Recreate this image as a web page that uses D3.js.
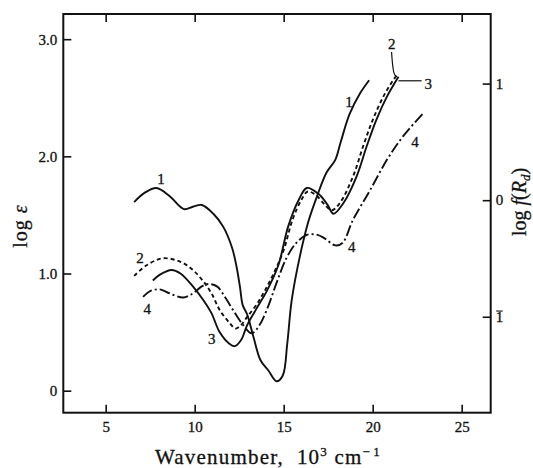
<!DOCTYPE html>
<html>
<head>
<meta charset="utf-8">
<script src="https://cdn.jsdelivr.net/npm/d3@7"></script>
<style>
  body { margin: 0; background: #fff; }
  svg text { font-family: "Liberation Serif", "DejaVu Serif", serif; fill: #111; stroke: #111; stroke-width: 0.3; }
</style>
</head>
<body>
<div id="chart"></div>
<script>
// wavenumber (10^3 cm-1), log eps
var curve1 = [[6.6,1.61],[7.2,1.69],[7.85,1.73],[8.6,1.66],[9.4,1.55],[9.9,1.57],[10.4,1.585],[11.05,1.51],[11.6,1.40],[12.1,1.22],[12.35,1.06],[12.55,0.88],[12.7,0.73],[12.95,0.65],[13.3,0.46],[13.7,0.26],[14.15,0.17],[14.6,0.08],[14.95,0.13],[15.2,0.40],[15.45,0.77],[15.9,1.14],[16.4,1.45],[16.9,1.67],[17.4,1.86],[17.9,1.97],[18.2,2.12],[18.7,2.36],[19.3,2.54],[19.8,2.65]];
var curve2 = [[6.6,0.98],[7.3,1.07],[8.2,1.13],[9.2,1.10],[9.9,1.03],[10.5,0.93],[10.95,0.83],[11.4,0.69],[11.95,0.58],[12.3,0.53],[12.6,0.56],[12.95,0.63],[13.5,0.74],[14.0,0.87],[14.5,1.02],[15.0,1.2],[15.5,1.46],[16.0,1.63],[16.35,1.70],[16.8,1.67],[17.3,1.59],[17.7,1.54],[18.15,1.60],[18.9,1.83],[19.45,2.08],[20.0,2.31],[20.6,2.51],[21.15,2.65],[21.35,2.69]];
var curve3 = [[7.65,0.94],[8.05,0.99],[8.7,1.03],[9.2,1.0],[9.9,0.89],[10.5,0.77],[10.95,0.66],[11.4,0.50],[11.95,0.40],[12.25,0.38],[12.6,0.43],[12.95,0.56],[13.55,0.72],[14.05,0.85],[14.7,1.07],[15.25,1.40],[15.85,1.63],[16.3,1.73],[16.95,1.68],[17.45,1.59],[17.8,1.51],[18.35,1.60],[19.1,1.83],[19.65,2.08],[20.2,2.31],[20.8,2.51],[21.45,2.68]];
var curve4 = [[7.1,0.80],[7.5,0.85],[8.05,0.865],[8.6,0.83],[9.35,0.795],[9.9,0.83],[10.4,0.89],[10.75,0.91],[11.25,0.89],[11.7,0.80],[12.15,0.69],[12.65,0.575],[13.2,0.49],[13.6,0.55],[14.05,0.69],[14.6,0.92],[15.15,1.13],[15.7,1.26],[16.3,1.33],[16.9,1.33],[17.3,1.30],[17.9,1.24],[18.3,1.26],[18.9,1.46],[19.85,1.71],[20.8,1.97],[21.7,2.17],[22.85,2.37]];

var xTicks = [5, 10, 15, 20, 25];
var yTicks = [0, 1, 2, 3];
var yTickLabels = ["0", "1.0", "2.0", "3.0"];
var y2Ticks = [-1, 0, 1];
var y2TickLabels = ["1", "0", "1"]; // -1 is written as 1 with a bar over it

// curve number labels [wavenumber, log eps, text]
var labels = [[8.11,1.807,"1"],[18.67,2.463,"1"],[6.93,1.138,"2"],[21.07,2.964,"2"],[10.96,0.447,"3"],[23.12,2.623,"3"],[7.34,0.703,"4"],[18.82,1.229,"4"],[22.38,2.125,"4"]];
var leader2 = [[21.06,2.89],[21.13,2.77],[21.2,2.71],[21.31,2.68]];
var leader3 = [[21.45,2.645],[22.75,2.645]];

(function(){
var w = 533, h = 468;
var pl = 63.3, pr = 490.7, pt = 14, pb = 412.7;

var svg = d3.select("#chart").append("svg")
  .attr("width", w).attr("height", h);

var x = d3.scaleLinear().domain([2.62, 26.63]).range([pl, pr]);
var y = d3.scaleLinear().domain([-0.188, 3.215]).range([pb, pt]);
var y2 = d3.scaleLinear().domain([-1.823, 1.597]).range([pb, pt]);

function style(g) {
  g.select(".domain").remove();
  g.selectAll(".tick line").attr("stroke", "#111").attr("stroke-width", 1.6);
  g.selectAll(".tick text").attr("font-size", 15).attr("fill", "#111")
    .attr("font-family", "Liberation Serif, serif");
}

svg.append("g").attr("transform", "translate(0," + pb + ")")
  .call(d3.axisBottom(x).tickValues(xTicks).tickSizeInner(-8).tickSizeOuter(0).tickPadding(9))
  .call(style);
svg.append("g").attr("transform", "translate(0," + pt + ")")
  .call(d3.axisTop(x).tickValues(xTicks).tickSizeInner(-8).tickSizeOuter(0).tickFormat(""))
  .call(style);
svg.append("g").attr("transform", "translate(" + pl + ",0)")
  .call(d3.axisLeft(y).tickValues(yTicks).tickSizeInner(-8).tickSizeOuter(0).tickPadding(6)
    .tickFormat(function(d, i){ return yTickLabels[i]; }))
  .call(style);
var rAxis = svg.append("g").attr("transform", "translate(" + pr + ",0)")
  .call(d3.axisRight(y2).tickValues(y2Ticks).tickSizeInner(-8).tickSizeOuter(0).tickPadding(5)
    .tickFormat(function(d, i){ return y2TickLabels[i]; }))
  .call(style);

// bar over the "1" of the -1 tick
rAxis.selectAll(".tick").filter(function(d){ return d < 0; }).each(function(){
  var t = d3.select(this).select("text");
  var bb = t.node().getBBox();
  d3.select(this).append("line")
    .attr("x1", bb.x + 0.5).attr("x2", bb.x + bb.width - 0.5)
    .attr("y1", bb.y + 2).attr("y2", bb.y + 2)
    .attr("stroke", "#111").attr("stroke-width", 1.1);
});

svg.append("rect")
  .attr("x", pl).attr("y", pt)
  .attr("width", pr - pl).attr("height", pb - pt)
  .attr("fill", "none").attr("stroke", "#111").attr("stroke-width", 2);

var line = d3.line()
  .x(function(d){ return x(d[0]); })
  .y(function(d){ return y(d[1]); })
  .curve(d3.curveCatmullRom.alpha(0.5));

var series = [
  {data: curve1, dash: null},
  {data: curve2, dash: "4,3"},
  {data: curve3, dash: null},
  {data: curve4, dash: "11,3,2,3"}
];

svg.append("g").selectAll("path")
  .data(series)
  .enter().append("path")
  .attr("d", function(d){ return line(d.data); })
  .attr("fill", "none")
  .attr("stroke", "#111")
  .attr("stroke-width", 1.9)
  .attr("stroke-dasharray", function(d){ return d.dash; });

svg.append("path").attr("d", line(leader2))
  .attr("fill", "none").attr("stroke", "#111").attr("stroke-width", 1.2);
svg.append("path").attr("d", d3.line().x(function(d){ return x(d[0]); }).y(function(d){ return y(d[1]); })(leader3))
  .attr("fill", "none").attr("stroke", "#111").attr("stroke-width", 1.2);

svg.append("g").selectAll("text")
  .data(labels)
  .enter().append("text")
  .attr("x", function(d){ return x(d[0]); })
  .attr("y", function(d){ return y(d[1]); })
  .attr("dy", "0.35em")
  .attr("text-anchor", "middle")
  .attr("font-size", 15)
  .text(function(d){ return d[2]; });

// axis titles
var xt = svg.append("text")
  .attr("x", (pl + pr) / 2 - 9).attr("y", 464)
  .attr("text-anchor", "middle")
  .attr("font-size", 21)
  .attr("letter-spacing", 1.2);
xt.append("tspan").text("Wavenumber,\u00a0\u00a010");
xt.append("tspan").attr("font-size", 13).attr("dy", -8).text("3");
xt.append("tspan").attr("dy", 8).text(" cm");
xt.append("tspan").attr("font-size", 13).attr("dy", -8).text("\u2212\u200a1");

var yt = svg.append("text")
  .attr("transform", "translate(27,226) rotate(-90)")
  .attr("text-anchor", "middle")
  .attr("font-size", 20)
  .attr("letter-spacing", 1);
yt.append("tspan").text("log ");
yt.append("tspan").attr("font-style", "italic").text("\u03b5");

var y2t = svg.append("text")
  .attr("transform", "translate(526,202) rotate(-90)")
  .attr("text-anchor", "middle")
  .attr("font-size", 20);
y2t.append("tspan").text("log ");
y2t.append("tspan").attr("font-style", "italic").text("f");
y2t.append("tspan").text("(");
y2t.append("tspan").attr("font-style", "italic").text("R");
y2t.append("tspan").attr("font-style", "italic").attr("font-size", 13).attr("dy", 4).text("d");
y2t.append("tspan").attr("dy", -4).text(")");
})();
</script>
</body>
</html>
